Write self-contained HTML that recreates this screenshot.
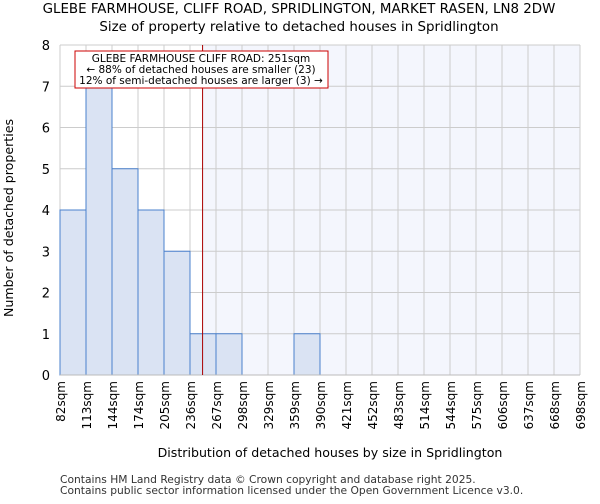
<!DOCTYPE html>
<html><head><meta charset="utf-8"><style>
body{margin:0;background:#fff;font-family:"DejaVu Sans","Liberation Sans",sans-serif}
</style></head><body>
<svg id="c" width="600" height="500" xmlns="http://www.w3.org/2000/svg" font-family="DejaVu Sans, Liberation Sans, sans-serif">
<text x="299" y="13" text-anchor="middle" font-size="13.4" fill="#000">GLEBE FARMHOUSE, CLIFF ROAD, SPRIDLINGTON, MARKET RASEN, LN8 2DW</text>
<text x="299" y="31" text-anchor="middle" font-size="13.4" fill="#000">Size of property relative to detached houses in Spridlington</text>
<g id="plot"></g>
<text x="330" y="457" text-anchor="middle" font-size="12.6">Distribution of detached houses by size in Spridlington</text>
<text transform="translate(13,218) rotate(-90)" text-anchor="middle" font-size="12.6">Number of detached properties</text>
<text x="60" y="483" font-size="10.7" fill="#333">Contains HM Land Registry data © Crown copyright and database right 2025.</text>
<text x="60" y="494" font-size="10.7" fill="#333">Contains public sector information licensed under the Open Government Licence v3.0.</text>
</svg>
<script>
const binEdges=[82,113,144,174,205,236,267,298,329,359,390,421,452,483,514,544,575,606,637,668,698];
const counts=[4,7,5,4,3,1,1,0,0,1,0,0,0,0,0,0,0,0,0,0];
const yTicks=[0,1,2,3,4,5,6,7,8];
const propertySize=251;
const NS="http://www.w3.org/2000/svg";
const L=60,R=580,T=45,B=375,yMax=8;
const g=document.getElementById('plot');
function xi(i){return L+(R-L)*i/(binEdges.length-1);}
function xv(v){for(let i=0;i<binEdges.length-1;i++){if(v<=binEdges[i+1])return xi(i)+(xi(i+1)-xi(i))*(v-binEdges[i])/(binEdges[i+1]-binEdges[i]);}return R;}
function y(v){return B-(B-T)*v/yMax;}
function el(t,a){const e=document.createElementNS(NS,t);for(const k in a)e.setAttribute(k,a[k]);g.appendChild(e);return e;}
const px=xv(propertySize);
let bg=el('rect',{x:px,y:T,width:R-px,height:B-T,fill:'#f4f6fd'});


for(let i=0;i<binEdges.length;i++){let l=el('line',{x1:xi(i),x2:xi(i),y1:T,y2:B,stroke:'#cccccc','stroke-width':1});

}
yTicks.forEach(t=>{let l=el('line',{x1:L,x2:R,y1:y(t),y2:y(t),stroke:'#cccccc','stroke-width':1});


let tx=el('text',{x:L-10,y:y(t)+5,'text-anchor':'end','font-size':13});tx.textContent=t;

});
counts.forEach((c,i)=>{if(c>0){let r=el('rect',{x:xi(i),y:y(c),width:xi(i+1)-xi(i),height:B-y(c),fill:'#dae3f3',stroke:'#4a80cc','stroke-width':1});

}});
binEdges.forEach((b,i)=>{let tx=el('text',{transform:`translate(${xi(i)+5},381) rotate(-90)`,'text-anchor':'end','font-size':12});tx.textContent=b+'sqm';

});
let ax=el('line',{x1:L,x2:R,y1:B,y2:B,stroke:'#bbbbbb','stroke-width':1});


let pl=el('line',{x1:px,x2:px,y1:T,y2:B,stroke:'#aa0000','stroke-width':1});


let box=el('rect',{x:75,y:51,width:253,height:37,fill:'#fff',stroke:'#cc0000','stroke-width':1});


['GLEBE FARMHOUSE CLIFF ROAD: 251sqm','← 88% of detached houses are smaller (23)','12% of semi-detached houses are larger (3) →'].forEach((s,i)=>{let tx=el('text',{x:201,y:62+i*11,'text-anchor':'middle','font-size':10.5});tx.textContent=s;

});
</script>
</body></html>
